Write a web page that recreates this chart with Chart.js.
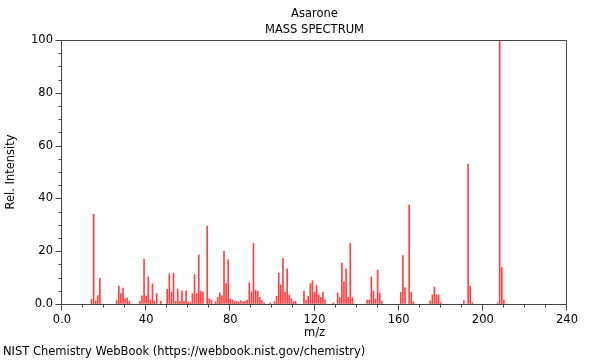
<!DOCTYPE html>
<html>
<head>
<meta charset="utf-8">
<script src="https://cdn.jsdelivr.net/npm/chart.js@4.4.0/dist/chart.umd.min.js"></script>
<style>
  html, body { margin: 0; padding: 0; background: #fff; }
  #wrap { width: 600px; height: 360px; }
</style>
</head>
<body>
<div id="wrap"><canvas id="c" width="600" height="360"></canvas></div>
<script>
// ---- Data ----
const compoundName = 'Asarone';
const chartSubtitle = 'MASS SPECTRUM';
const footerText = 'NIST Chemistry WebBook (https://webbook.nist.gov/chemistry)';
const xTitle = 'm/z';
const yTitle = 'Rel. Intensity';

const mz = [14,15,16,17,18,26,27,28,29,30,31,32,37,38,39,40,41,42,43,44,45,47,
  50,51,52,53,54,55,56,57,58,59,60,61,62,63,64,65,66,67,69,70,71,73,74,75,76,77,78,79,
  80,81,82,83,84,85,86,87,88,89,90,91,92,93,94,95,96,99,101,102,103,104,105,106,107,108,109,
  110,111,115,116,117,118,119,120,121,122,123,124,125,129,131,132,133,134,135,136,137,138,
  145,146,147,148,149,150,151,152,161,162,163,165,166,167,175,176,177,178,179,180,
  191,193,194,195,207,208,209,210];

const intensity = [1.7,34,1.1,3.2,9.7,1.3,6.8,3.9,6,1.9,2.3,1,1,3.1,17,3,10.3,1.5,7.6,1,3.9,1,
  5.6,11.4,4.5,11.7,1,5.7,1,4.9,1,5,0.8,0.6,3.9,11.2,4,18.6,4.9,4.5,29.5,2,1.5,0.8,2.5,4.2,3.1,20,7.8,16.7,
  2,1.5,1,1,0.8,1.2,0.8,1,1.5,8,4.5,23,5.3,4.9,2.5,1.3,0.5,0.5,1,2.9,11.7,7.3,17.3,4.5,13.3,3.5,2,
  1,1,4.9,1.5,2.9,7.7,8.8,4.5,7,3.5,2.5,4.5,1.5,0.5,4.2,2.4,15.5,8.4,13.3,2.5,23,2.4,
  1.5,1.5,10.3,4.9,2,12.9,4.2,1,4.4,18.3,6.2,37.5,4.4,0.8,1.2,3.5,6.4,3.5,3.5,0.5,
  1.3,53,6.8,0.6,0.5,100,13.9,1.5];

const xTickValues = [0,40,80,120,160,200,240];
const xTickLabels = ['0.0','40','80','120','160','200','240'];
const yTickValues = [0,20,40,60,80,100];
const yTickLabels = ['0.0','20','40','60','80','100'];
const xMinorStep = 10;
const yMinorStep = 5;

// ---- Drawing ----
const FONT = "'DejaVu Sans', sans-serif";
const AXIS_COLOR = '#444';

const decorations = {
  id: 'decorations',
  afterDraw(chart) {
    const { ctx, chartArea: a, scales: { x, y } } = chart;
    ctx.save();
    ctx.strokeStyle = AXIS_COLOR;
    ctx.lineWidth = 1;
    // frame
    const L = Math.round(a.left) - 0.5, R = Math.round(a.right) - 0.5;
    const T = Math.round(a.top) + 0.5, B = Math.round(a.bottom) + 0.5;
    ctx.beginPath();
    ctx.rect(L, T, R - L, B - T);
    ctx.stroke();
    // x ticks
    ctx.beginPath();
    for (let v = x.min; v <= x.max + 1e-9; v += xMinorStep) {
      const px = Math.round(x.getPixelForValue(v)) - 0.5;
      const major = xTickValues.includes(v);
      ctx.moveTo(px, B);
      ctx.lineTo(px, B + (major ? 6 : 3));
    }
    // y ticks
    for (let v = y.min; v <= y.max + 1e-9; v += yMinorStep) {
      const py = Math.round(y.getPixelForValue(v)) + 0.5;
      const major = yTickValues.includes(v);
      ctx.moveTo(L, py);
      ctx.lineTo(L - (major ? 6 : 3), py);
    }
    ctx.stroke();
    // titles
    ctx.fillStyle = '#000';
    ctx.font = '11.5px ' + FONT;
    ctx.textAlign = 'center';
    ctx.textBaseline = 'middle';
    const cx = (a.left + a.right) / 2;
    ctx.fillText(compoundName, cx, 14);
    ctx.fillText(chartSubtitle, cx, 30);
    ctx.textAlign = 'left';
    ctx.fillText(footerText, 3, 352);
    ctx.restore();
  }
};

new Chart(document.getElementById('c'), {
  type: 'bar',
  data: {
    datasets: [{
      data: mz.map((m, i) => ({ x: m, y: intensity[i] })),
      backgroundColor: 'rgba(255,0,0,0.75)',
      borderWidth: 0,
      barThickness: 1,
      grouped: false
    }]
  },
  options: {
    responsive: false,
    animation: false,
    devicePixelRatio: 1,
    layout: { padding: { left: 0, right: 33, top: 40, bottom: 16 } },
    plugins: { legend: { display: false }, tooltip: { enabled: false }, title: { display: false } },
    scales: {
      x: {
        type: 'linear', min: 0, max: 240, offset: false,
        border: { display: false },
        grid: { drawOnChartArea: false, drawTicks: true, tickLength: 6, tickColor: 'rgba(0,0,0,0)' },
        afterBuildTicks: s => { s.ticks = xTickValues.map(v => ({ value: v })); },
        ticks: {
          autoSkip: false, maxRotation: 0, padding: 3, color: '#000',
          font: { family: FONT, size: 11.5 },
          callback: (v) => { const i = xTickValues.indexOf(v); return i >= 0 ? xTickLabels[i] : ''; }
        },
        title: { display: true, text: xTitle, color: '#000', font: { family: FONT, size: 11.5 }, padding: { top: 4, bottom: 4 } },
        afterFit: s => { s.height = 40; }
      },
      y: {
        type: 'linear', min: 0, max: 100,
        border: { display: false },
        grid: { drawOnChartArea: false, drawTicks: true, tickLength: 6, tickColor: 'rgba(0,0,0,0)' },
        afterBuildTicks: s => { s.ticks = yTickValues.map(v => ({ value: v })); },
        ticks: {
          autoSkip: false, padding: 3, color: '#000',
          font: { family: FONT, size: 11.5 },
          callback: (v) => { const i = yTickValues.indexOf(v); return i >= 0 ? yTickLabels[i] : ''; }
        },
        title: { display: true, text: yTitle, color: '#000', font: { family: FONT, size: 11.5 }, padding: { top: 4, bottom: 4 } },
        afterFit: s => { s.width = 62; }
      }
    }
  },
  plugins: [decorations]
});
</script>
</body>
</html>
